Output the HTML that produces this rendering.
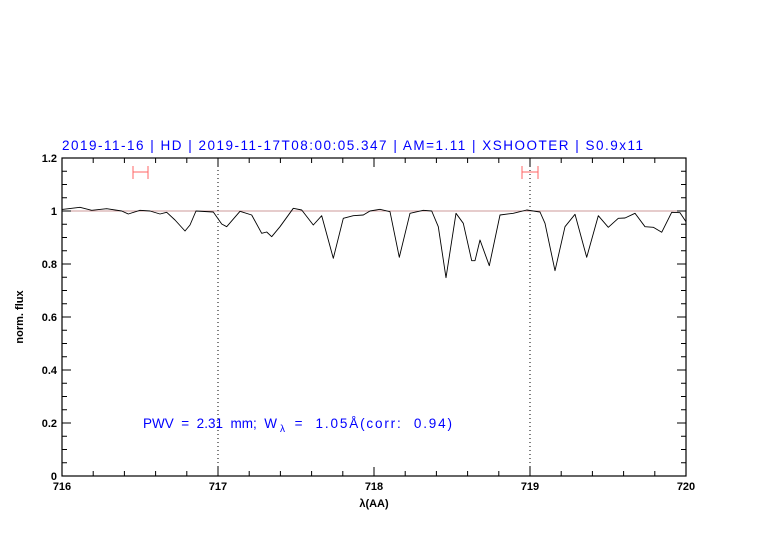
<!DOCTYPE html>
<html><head><meta charset="utf-8"><style>body{margin:0;background:#fff}svg{display:block}</style></head><body>
<svg width="782" height="542" viewBox="0 0 782 542" xmlns="http://www.w3.org/2000/svg" font-family="Liberation Sans, sans-serif">
<rect width="782" height="542" fill="#fff"/>
<text x="62" y="150" fill="#0000ff" font-size="13.5" textLength="581" lengthAdjust="spacing">2019-11-16 | HD | 2019-11-17T08:00:05.347 | AM=1.11 | XSHOOTER | S0.9x11</text>
<line x1="62" y1="211" x2="686" y2="211" stroke="#b77" stroke-width="0.8"/>
<line x1="218" y1="158" x2="218" y2="476" stroke="#000" stroke-width="1" stroke-dasharray="1,3"/>
<line x1="530" y1="158" x2="530" y2="476" stroke="#000" stroke-width="1" stroke-dasharray="1,3"/>
<g stroke="#f66" stroke-width="1" fill="none">
<path d="M133 172H148M133 166V179M148 166V179"/>
<path d="M522 172H538M522 166V179M538 166V179"/>
</g>
<polyline fill="none" stroke="#000" stroke-width="0.9" stroke-linejoin="round" points="62,209.5 63.3,209.3 80,207.3 91.7,210.3 106.7,208.7 121.7,211 128.3,214 140,210.3 150,211 160,214 166.7,212.3 175,220 185,231 190,225 196,211 213.3,212 221.7,224 226.7,226.7 240,211.3 251.7,215 261.7,233.3 266.7,232 271.7,236.7 280,226.7 293.3,208.3 301.7,210 313.3,225 321.7,215.7 333.3,258.3 343.3,218.3 353.3,215.7 363.3,215 370,211 380,209.3 390,211.7 399.3,257.3 410,213.3 423.3,210.3 431.7,211 438.3,226.7 446,277.7 456,213.3 463.3,223.3 471.7,260.7 475,260.7 480,240 489.3,265.7 500,215 513.3,213.3 526.7,210 540,212 545,223.3 555,270.7 565,226.7 575,214.3 586.7,257.3 598.3,215.7 608.3,227.3 618.3,218.3 625,218 635,213.3 645,226.7 653.3,227.3 661.7,232.3 671.7,212.3 680,212.7 686,221.7"/>
<rect x="62" y="158" width="624" height="318" fill="none" stroke="#000" stroke-width="1.2"/>
<g stroke="#000" stroke-width="1">
<path d="M93.2 476v-5M124.4 476v-5M155.6 476v-5M186.8 476v-5M218 476v-9M249.2 476v-5M280.4 476v-5M311.6 476v-5M342.8 476v-5M374 476v-9M405.2 476v-5M436.4 476v-5M467.6 476v-5M498.8 476v-5M530 476v-9M561.2 476v-5M592.4 476v-5M623.6 476v-5M654.8 476v-5"/>
<path d="M93.2 158v5M124.4 158v5M155.6 158v5M186.8 158v5M218 158v9M249.2 158v5M280.4 158v5M311.6 158v5M342.8 158v5M374 158v9M405.2 158v5M436.4 158v5M467.6 158v5M498.8 158v5M530 158v9M561.2 158v5M592.4 158v5M623.6 158v5M654.8 158v5"/>
<path d="M62 462.75h5M62 449.5h5M62 436.25h5M62 423h9M62 409.75h5M62 396.5h5M62 383.25h5M62 370h9M62 356.75h5M62 343.5h5M62 330.25h5M62 317h9M62 303.75h5M62 290.5h5M62 277.25h5M62 264h9M62 250.75h5M62 237.5h5M62 224.25h5M62 211h9M62 197.75h5M62 184.5h5M62 171.25h5"/>
<path d="M686 462.75h-5M686 449.5h-5M686 436.25h-5M686 423h-9M686 409.75h-5M686 396.5h-5M686 383.25h-5M686 370h-9M686 356.75h-5M686 343.5h-5M686 330.25h-5M686 317h-9M686 303.75h-5M686 290.5h-5M686 277.25h-5M686 264h-9M686 250.75h-5M686 237.5h-5M686 224.25h-5M686 211h-9M686 197.75h-5M686 184.5h-5M686 171.25h-5"/>
</g>
<g font-size="11" font-weight="bold" fill="#000" text-anchor="end">
<text x="57" y="480">0</text><text x="57" y="427">0.2</text><text x="57" y="374">0.4</text><text x="57" y="321">0.6</text><text x="57" y="268">0.8</text><text x="57" y="215">1</text><text x="57" y="162">1.2</text>
</g>
<g font-size="11" font-weight="bold" fill="#000" text-anchor="middle">
<text x="62" y="490">716</text><text x="218" y="490">717</text><text x="374" y="490">718</text><text x="530" y="490">719</text><text x="686" y="490">720</text>
<text x="374" y="507">λ(AA)</text>
<text transform="translate(23,317) rotate(-90)">norm. flux</text>
</g>
<text x="143" y="428" fill="#0000ff" font-size="13.5" textLength="134" lengthAdjust="spacing" xml:space="preserve">PWV  =  2.31  mm;  W</text>
<text x="280" y="432" fill="#0000ff" font-size="10">λ</text>
<text x="289" y="428" fill="#0000ff" font-size="13.5" textLength="163" lengthAdjust="spacing" xml:space="preserve"> =  1.05Å(corr:  0.94)</text>
</svg>
</body></html>
